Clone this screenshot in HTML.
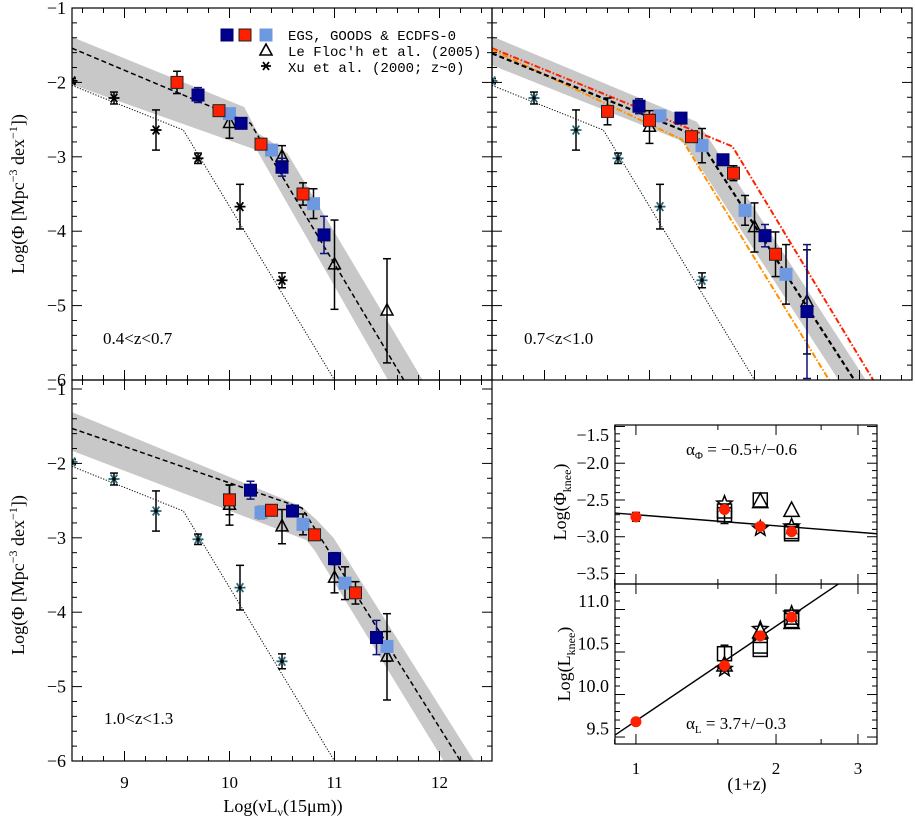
<!DOCTYPE html>
<html><head><meta charset="utf-8"><style>
body{margin:0;background:#fff;}
svg{display:block;}
text{font-family:"Liberation Serif",serif;fill:#000;}
.mono{font-family:"Liberation Mono",monospace;}
</style></head><body>
<svg id="fig" width="915" height="821" viewBox="0 0 915 821" xmlns="http://www.w3.org/2000/svg"></svg>
<script>
// ---------- data: panel 1 (0.4<z<0.7) ----------
const p1Dark=[[9.70,-2.17,0.1],[10.11,-2.55,0.07],[10.50,-3.14,0.12],[10.90,-4.05,0.25]];
const p1Red=[[9.50,-2.0,0.15],[9.90,-2.38,0.05],[10.30,-2.83,0.05],[10.70,-3.50,0.15]];
const p1Light=[[10.00,-2.42,0.05],[10.40,-2.91,0.06],[10.80,-3.63,0.2]];
const p1Tri=[[10.0,-2.55,0.2],[10.5,-3.0,0.15],[11.0,-4.45,0.6],[11.5,-5.07,0.7]];
const p1Fit=[[8.5,-1.54],[10.20,-2.55],[11.66,-6.0]];
const p1BandUp=[[8.5,-1.39],[10.14,-2.33],[10.27,-2.68],[10.39,-2.79],[10.55,-2.95],[11.84,-6.0]];
const p1BandLo=[[8.5,-2.03],[9.98,-2.77],[10.26,-2.91],[11.51,-6.0]];
// ---------- panel 2 (0.7<z<1.0) ----------
const p2Dark=[[9.90,-2.32,0.1],[10.30,-2.48,0.05],[10.70,-3.04,0.07],[11.10,-4.06,0.15],[11.50,-5.08,0.9]];
const p2Red=[[9.60,-2.39,0.18],[10.00,-2.51,0.05],[10.40,-2.73,0.05],[10.80,-3.22,0.1],[11.20,-4.31,0.3]];
const p2Light=[[10.10,-2.45,0.04],[10.50,-2.85,0.23],[10.91,-3.72,0.2],[11.30,-4.58,0.4]];
const p2Tri=[[10.0,-2.60,0.22],[11.0,-3.95,0.33],[11.5,-4.95,0.7]];
const p2Fit=[[8.5,-1.61],[10.45,-2.72],[11.95,-6.0]];
const p2RedFit=[[8.5,-1.54],[10.79,-2.86],[12.13,-6.0]];
const p2OrangeFit=[[8.5,-1.56],[10.31,-2.77],[11.71,-6.0]];
const p2BandUp=[[8.5,-1.38],[10.45,-2.53],[10.55,-2.72],[12.06,-6.0]];
const p2BandLo=[[8.5,-1.77],[10.28,-2.77],[10.35,-2.85],[11.80,-6.0]];
// ---------- panel 3 (1.0<z<1.3) ----------
const p3Dark=[[10.20,-2.36,0.12],[10.60,-2.64,0.05],[11.0,-3.28,0.08],[11.40,-4.34,0.23]];
const p3Red=[[10.0,-2.49,0.2],[10.40,-2.63,0.04],[10.81,-2.96,0.05],[11.20,-3.74,0.15]];
const p3Light=[[10.30,-2.66,0.08],[10.70,-2.82,0.14],[11.10,-3.61,0.22],[11.50,-4.46,0.2]];
const p3Tri=[[10.0,-2.56,0.27],[10.50,-2.85,0.23],[11.0,-3.54,0.2],[11.5,-4.60,0.58]];
const p3Fit=[[8.5,-1.53],[10.69,-2.60],[12.20,-6.0]];
const p3BandUp=[[8.5,-1.31],[10.69,-2.58],[10.83,-2.76],[10.99,-3.0],[12.33,-6.0]];
const p3BandLo=[[8.5,-1.83],[10.73,-3.03],[10.81,-3.17],[12.04,-6.0]];
// ---------- Xu et al. local LF (all panels) ----------
const xuPts=[[8.5,-1.98,0.03],[8.9,-2.21,0.08],[9.3,-2.64,0.27],[9.7,-3.02,0.07],[10.1,-3.67,0.3],[10.5,-4.66,0.1]];
const xuFit=[[8.5,-2.04],[9.56,-2.64],[11.0,-6.0]];
// ---------- knee evolution ----------
const kneeZ=[1,1.55,1.85,2.16];
const phiRed=[-2.73,-2.63,-2.86,-2.93];
const phiRedErr=[0.06,0.03,0.03,0.03];
const phiSq=[[1.55,-2.65,0],[1.55,-2.70,0.12],[1.85,-2.50,0],[2.16,-2.93,0],[2.16,-2.96,0]];
const phiStar=[[1.55,-2.55],[1.85,-2.89],[2.16,-2.86]];
const phiTri=[[1.85,-2.53],[2.16,-2.65]];
const lRed=[9.58,10.24,10.59,10.81];
const lRedErr=[0.03,0.02,0.02,0.02];
const lSq=[[1.55,10.38,0.1],[1.85,10.47,0],[1.85,10.43,0],[2.16,10.81,0],[2.16,10.77,0]];
const lStar=[[1.55,10.20],[1.85,10.67],[2.16,10.85]];
const lTri=[[1.55,10.24],[1.85,10.63],[2.16,10.74]];
const phiFitCoef=[-2.70,-0.5];
const lFitCoef=[9.59,3.7];

const NS='http://www.w3.org/2000/svg';
const svg=document.getElementById('fig');
function el(tag,attrs,parent){const e=document.createElementNS(NS,tag);for(const k in attrs)e.setAttribute(k,attrs[k]);(parent||svg).appendChild(e);return e;}

function makePanel(id,x0,x1,y0,y1,xmin,xmax,ymin,ymax,logx){
  const P={x0,x1,y0,y1};
  P.sx=v=>{const t=logx?Math.log10(v):v;return x0+(t-xmin)/(xmax-xmin)*(x1-x0);};
  P.sy=v=>y1-(v-ymin)/(ymax-ymin)*(y1-y0);
  const cp=el('clipPath',{id:'clip'+id});
  el('rect',{x:x0,y:y0,width:x1-x0,height:y1-y0},cp);
  P.g=el('g',{'clip-path':'url(#clip'+id+')'});
  
  
  return P;
}
function poly(P,pts,style,name){
  const d=pts.map(p=>P.sx(p[0]).toFixed(1)+','+P.sy(p[1]).toFixed(1)).join(' ');
  const e=el('polyline',Object.assign({points:d,fill:'none'},style),P.g);
  
  
}
function band(P,up,lo,name){
  const pts=up.concat(lo.slice().reverse());
  const d=pts.map(p=>P.sx(p[0]).toFixed(1)+','+P.sy(p[1]).toFixed(1)).join(' ');
  const e=el('polygon',{points:d,fill:'#c8c8c8',stroke:'none'},P.g);
  
  
}
function errbar(P,x,y,err,color){
  const X=P.sx(x),a=P.sy(y+err),b=P.sy(y-err);
  el('line',{x1:X,y1:a,x2:X,y2:b,stroke:color,'stroke-width':1.5},P.g);
  el('line',{x1:X-4,y1:a,x2:X+4,y2:a,stroke:color,'stroke-width':1.5},P.g);
  el('line',{x1:X-4,y1:b,x2:X+4,y2:b,stroke:color,'stroke-width':1.5},P.g);
}
function squares(P,arr,fill,ecol,stroke,name){
  arr.forEach(p=>{
    if(p[2]>0)errbar(P,p[0],p[1],p[2],ecol);
    const s=el('rect',{x:P.sx(p[0])-6,y:P.sy(p[1])-6,width:12,height:12,fill:fill,stroke:stroke,'stroke-width':1},P.g);
    
    
  });
}
function triangles(P,arr,name,sz){
  sz=sz||7;
  arr.forEach(p=>{
    if(p[2]>0)errbar(P,p[0],p[1],p[2],'#000');
    const X=P.sx(p[0]),Y=P.sy(p[1]);
    const t=el('polygon',{points:`${X},${Y-sz} ${X-sz*0.85},${Y+sz*0.6} ${X+sz*0.85},${Y+sz*0.6}`,fill:'none',stroke:'#000','stroke-width':1.5},P.g);
    
    
  });
}
function asterisks(P,arr,col){
  arr.forEach(p=>{
    errbar(P,p[0],p[1],p[2],'#000');
    const X=P.sx(p[0]),Y=P.sy(p[1]),r=5.5;
    const g=el('g',{stroke:col,'stroke-width':1.8},P.g);
    
    
    el('line',{x1:X-r,y1:Y,x2:X+r,y2:Y},g);
    el('line',{x1:X-r*0.6,y1:Y-r*0.8,x2:X+r*0.6,y2:Y+r*0.8},g);
    el('line',{x1:X-r*0.6,y1:Y+r*0.8,x2:X+r*0.6,y2:Y-r*0.8},g);
    el('circle',{cx:X,cy:Y,r:1.8,fill:'#000',stroke:'none'},g);
  });
}
function star(P,x,y,name){
  const X=P.sx(x),Y=P.sy(y),R=8,r=3.4;let pts=[];
  for(let i=0;i<10;i++){const a=-Math.PI/2+i*Math.PI/5,rr=i%2?r:R;pts.push((X+rr*Math.cos(a)).toFixed(1)+','+(Y+rr*Math.sin(a)).toFixed(1));}
  const s=el('polygon',{points:pts.join(' '),fill:'none',stroke:'#000','stroke-width':1.5},P.g);
  
  
}
function frame(P,name){
  const r=el('rect',{x:P.x0,y:P.y0,width:P.x1-P.x0,height:P.y1-P.y0,fill:'none',stroke:'#000','stroke-width':1.2});
  
  
}
function tick(x1,y1,x2,y2){el('line',{x1,y1,x2,y2,stroke:'#000','stroke-width':1});}
function xTicks(P,from,to,step){
  for(let v=from;v<=to+1e-9;v+=step){
    const X=P.sx(v),L=5;
    tick(X,P.y1,X,P.y1-L);tick(X,P.y0,X,P.y0+L);
  }
}
function yTicks(P,from,to,step,majEvery){
  for(let v=from,i=0;v<=to+1e-9;v+=step,i++){
    const Y=P.sy(v),L=(i%majEvery===0)?10:5;
    if(Y<P.y0-0.5||Y>P.y1+0.5)continue;
    tick(P.x0,Y,P.x0+L,Y);tick(P.x1,Y,P.x1-L,Y);
  }
}
function label(x,y,txt,size,anchor,name,cls){
  const t=el('text',{x,y,'font-size':size,'text-anchor':anchor||'start'});
  if(cls)t.setAttribute('class',cls);
  t.textContent=txt;
  
  
  return t;
}

// ---------- LF panels ----------
function lfPanel(id,P,d){
  band(P,d.up,d.lo,id+'-fit-band');
  poly(P,xuFit,{stroke:'#000','stroke-width':1,'stroke-dasharray':'1.2,1.6'},id+'-xu-fit-line');
  if(d.redFit)poly(P,d.redFit,{stroke:'#ff2000','stroke-width':2,'stroke-dasharray':'6,2,1.5,2'},id+'-red-fit-line');
  if(d.orFit)poly(P,d.orFit,{stroke:'#ff9000','stroke-width':2,'stroke-dasharray':'6,2,1.5,2'},id+'-orange-fit-line');
  poly(P,d.fit,{stroke:'#000','stroke-width':d.thick?2.2:1.5,'stroke-dasharray':'5,3'},id+'-fit-line');
  asterisks(P,xuPts,d.cyan?'#2a6a78':'#000');
  triangles(P,d.tri,id+'-lefloch-point');
  squares(P,d.light,'#6e98e0','#000','#6e98e0',id+'-ecdfs-point');
  squares(P,d.red,'#ff2000','#000','#222',id+'-goods-point');
  squares(P,d.dark,'#00008e','#10107a','#00006a',id+'-egs-point');
}
const P1=makePanel('panel-1',72,492,8,380,8.5,12.5,-6,-1,false);
lfPanel('panel-1',P1,{up:p1BandUp,lo:p1BandLo,fit:p1Fit,dark:p1Dark,red:p1Red,light:p1Light,tri:p1Tri});
const P2=makePanel('panel-2',492,912,8,380,8.5,12.5,-6,-1,false);
lfPanel('panel-2',P2,{up:p2BandUp,lo:p2BandLo,fit:p2Fit,redFit:p2RedFit,orFit:p2OrangeFit,dark:p2Dark,red:p2Red,light:p2Light,tri:p2Tri,thick:true,cyan:true});
const P3=makePanel('panel-3',72,492,380,761,8.5,12.5,-6,-6+381/74.4,false);
lfPanel('panel-3',P3,{up:p3BandUp,lo:p3BandLo,fit:p3Fit,dark:p3Dark,red:p3Red,light:p3Light,tri:p3Tri,cyan:true});

[P1,P2,P3].forEach((P,i)=>{xTicks(P,8.6,12.4,0.2);yTicks(P,-6,-1,0.2,5);frame(P,'panel-'+(i+1)+'-frame');});
[P1,P2,P3].forEach(P=>{for(let v=9;v<=12;v++){const X=P.sx(v);tick(X,P.y1,X,P.y1-10);tick(X,P.y0,X,P.y0+10);}});

// tick labels
[-1,-2,-3,-4,-5,-6].forEach(v=>label(66,P1.sy(v)+6,'−'+(-v),18,'end','y-tick-label-top'));
[-1,-2,-3,-4,-5,-6].forEach(v=>label(66,P3.sy(v)+6,'−'+(-v),18,'end','y-tick-label-bottom'));
[9,10,11,12].forEach(v=>label(P3.sx(v),788,String(v),17,'middle','x-tick-label'));
let t=label(283,812,'',18,'middle','x-axis-title');t.innerHTML='Log(νL<tspan font-size="12" dy="4">ν</tspan><tspan dy="-4">(15μm))</tspan>';
t=label(0,0,'',18,'middle','y-axis-title-top');t.innerHTML='Log(Φ [Mpc<tspan font-size="12" dy="-7">−3</tspan><tspan dy="7"> dex</tspan><tspan font-size="12" dy="-7">−1</tspan><tspan dy="7">])</tspan>';t.setAttribute('transform','translate(24,194) rotate(-90)');
t=label(0,0,'',18,'middle','y-axis-title-bottom');t.innerHTML='Log(Φ [Mpc<tspan font-size="12" dy="-7">−3</tspan><tspan dy="7"> dex</tspan><tspan font-size="12" dy="-7">−1</tspan><tspan dy="7">])</tspan>';t.setAttribute('transform','translate(24,575) rotate(-90)');
label(103,344,'0.4<z<0.7',17,'start','panel-1-redshift-label');
label(524,344,'0.7<z<1.0',17,'start','panel-2-redshift-label');
label(104,724,'1.0<z<1.3',17,'start','panel-3-redshift-label');

// legend
const lg=el('g',{});


[['#00008e','#00006a'],['#ff2000','#222'],['#6e98e0','#6e98e0']].forEach((c,i)=>{
  const r=el('rect',{x:[221,239,260][i],y:29,width:12,height:12,fill:c[0],stroke:c[1]},lg);
  
  
});
el('polygon',{points:'266,44 260,55 272,55',fill:'none',stroke:'#000','stroke-width':1.6},lg);
el('path',{d:'M261,66 h10 M263,62 l6,8 M263,70 l6,-8',stroke:'#000','stroke-width':1.8},lg);
label(288,40,'EGS, GOODS & ECDFS-0',14,'start','legend-entry-egs','mono');
label(288,56,"Le Floc'h et al. (2005)",14,'start','legend-entry-lefloch','mono');
label(288,72,'Xu et al. (2000; z~0)',14,'start','legend-entry-xu','mono');

// ---------- knee panels ----------
const Q1=makePanel('phi-knee',615,877,425,584,-0.045,0.518,-3.643,-1.480,true);
const Q2=makePanel('l-knee',615,877,584,744,-0.045,0.518,9.318,11.200,true);
function kneeLine(P,coef,name){
  const xs=[0.85,3.5];
  poly(P,xs.map(z=>[z,coef[0]+coef[1]*Math.log10(z)]),{stroke:'#000','stroke-width':1.4},name);
}
kneeLine(Q1,phiFitCoef,'phi-knee-fit-line');
kneeLine(Q2,lFitCoef,'l-knee-fit-line');
function openSq(P,arr,name){arr.forEach(p=>{if(p[2]>0)errbar(P,p[0],p[1],p[2],'#000');const r=el('rect',{x:P.sx(p[0])-7,y:P.sy(p[1])-7,width:14,height:14,fill:'none',stroke:'#000','stroke-width':1.5},P.g);});}
openSq(Q1,phiSq,'phi-knee-square');
openSq(Q2,lSq,'l-knee-square');
phiStar.forEach(p=>star(Q1,p[0],p[1],'phi-knee-star'));
lStar.forEach(p=>star(Q2,p[0],p[1],'l-knee-star'));
triangles(Q1,phiTri.map(p=>[p[0],p[1],0]),'phi-knee-triangle',9);
triangles(Q2,lTri.map(p=>[p[0],p[1],0]),'l-knee-triangle',9);
function redDots(P,vals,errs,name){kneeZ.forEach((z,i)=>{errbar(P,z,vals[i],errs[i],'#000');const c=el('circle',{cx:P.sx(z),cy:P.sy(vals[i]),r:5.5,fill:'#ff2000'},P.g);});}
redDots(Q1,phiRed,phiRedErr,'phi-knee-point');
redDots(Q2,lRed,lRedErr,'l-knee-point');
[Q1,Q2].forEach(P=>{
  [1,2,3].forEach(v=>{const X=P.sx(v);tick(X,P.y1,X,P.y1-10);tick(X,P.y0,X,P.y0+10);});
  [0.9,1.5,2.5].forEach(v=>{const X=P.sx(v);tick(X,P.y1,X,P.y1-5);tick(X,P.y0,X,P.y0+5);});
});
yTicks(Q1,-3.5,-1.5,0.1,5);
yTicks(Q2,9.4,11.2,0.1,5);
frame(Q1,'phi-knee-frame');frame(Q2,'l-knee-frame');
[-1.5,-2.0,-2.5,-3.0,-3.5].forEach(v=>{const y=Math.max(Q1.sy(v)+6,441);label(609,y,'−'+(-v).toFixed(1),18,'end','phi-knee-y-tick');});
[9.5,10.0,10.5,11.0].forEach(v=>label(609,Q2.sy(v)+6,v.toFixed(1),18,'end','l-knee-y-tick'));
[1,2,3].forEach(v=>label(Q2.sx(v),774,String(v),17,'middle','knee-x-tick'));
label(747,790,'(1+z)',18,'middle','knee-x-axis-title');
t=label(0,0,'',18,'middle','phi-knee-y-title');t.innerHTML='Log(Φ<tspan font-size="12" dy="5">knee</tspan><tspan dy="-5">)</tspan>';t.setAttribute('transform','translate(566,502) rotate(-90)');
t=label(0,0,'',18,'middle','l-knee-y-title');t.innerHTML='Log(L<tspan font-size="12" dy="5">knee</tspan><tspan dy="-5">)</tspan>';t.setAttribute('transform','translate(570,664) rotate(-90)');
t=label(686,455,'',17,'start','alpha-phi-label');t.innerHTML='α<tspan font-size="11" dy="4">Φ</tspan><tspan dy="-4">  =  −0.5+/−0.6</tspan>';
t=label(686,729,'',17,'start','alpha-l-label');t.innerHTML='α<tspan font-size="11" dy="4">L</tspan><tspan dy="-4">  =  3.7+/−0.3</tspan>';
</script>
</body></html>
